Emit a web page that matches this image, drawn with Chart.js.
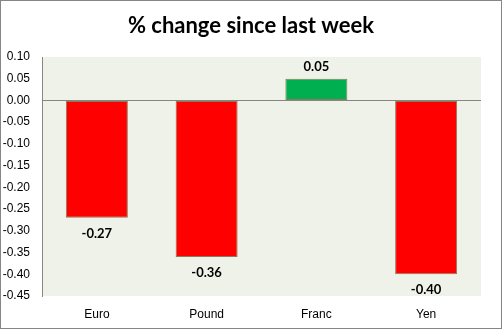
<!DOCTYPE html>
<html>
<head>
<meta charset="utf-8">
<script src="https://cdn.jsdelivr.net/npm/chart.js@4/dist/chart.umd.min.js"></script>
<style>
  html, body { margin: 0; padding: 0; background: #fff; }
  #wrap { width: 502px; height: 329px; position: relative; }
</style>
</head>
<body>
<div id="wrap"><canvas id="barChart"></canvas></div>
<script>
var categories = ['Euro', 'Pound', 'Franc', 'Yen'];
var changes = [-0.27, -0.36, 0.05, -0.40];
var barColors = ['#ff0000', '#ff0000', '#00b050', '#ff0000'];
var yMin = -0.45, yMax = 0.10, yStep = 0.05;

// plot background, frame, title and value labels
var decor = {
	id: 'decor',
	beforeDraw: function(chart) {
		var ctx = chart.ctx, a = chart.chartArea;
		ctx.save();
		ctx.fillStyle = '#eff2e8';
		ctx.fillRect(a.left, a.top, a.right - a.left, a.bottom - a.top);
		ctx.restore();
	},
	afterDraw: function(chart) {
		var ctx = chart.ctx;
		ctx.save();
		ctx.strokeStyle = '#868686';
		ctx.lineWidth = 1;
		ctx.strokeRect(0.5, 0.5, chart.width - 1, chart.height - 1);
		ctx.fillStyle = '#000';
		ctx.textAlign = 'center';
		ctx.textBaseline = 'middle';
		ctx.font = 'bold 22px Lato';
		ctx.fillText('% change since last week', 251, 26);
		ctx.font = 'bold 13px Lato';
		var meta = chart.getDatasetMeta(0);
		meta.data.forEach(function(bar, i) {
			var v = changes[i];
			var y = v < 0 ? bar.y + 16 : bar.y - 12;
			ctx.fillText(v.toFixed(2), bar.x, y);
		});
		ctx.restore();
	}
};

var barChartCanvas = document.getElementById('barChart').getContext('2d');
var barChart = new Chart(barChartCanvas, {
	type: 'bar',
	data: {
		labels: categories,
		datasets: [{
			data: changes,
			backgroundColor: barColors,
			borderColor: '#8c7b5c',
			borderWidth: 1,
			borderSkipped: false,
			categoryPercentage: 1,
			barPercentage: 0.565
		}]
	},
	options: {
		responsive: true,
		maintainAspectRatio: false,
		animation: false,
		layout: { padding: { top: 57, right: 21, left: 0, bottom: 0 } },
		plugins: {
			legend: { display: false },
			title: { display: false },
			tooltip: { enabled: false }
		},
		scales: {
			x: {
				grid: { display: false, drawTicks: false },
				border: { display: false },
				ticks: { color: '#000', font: { family: 'Liberation Sans', size: 12 }, padding: 11 },
				afterFit: function(s) { s.height = 33; }
			},
			y: {
				min: yMin,
				max: yMax,
				grid: {
					drawTicks: false,
					color: function(c) { return Math.abs(c.tick.value) < 1e-9 ? '#868686' : 'rgba(0,0,0,0)'; }
				},
				border: { display: true, color: '#868686' },
				ticks: {
					stepSize: yStep,
					color: '#000',
					font: { family: 'Liberation Sans', size: 12 },
					padding: 12,
					callback: function(v) { return Number(v).toFixed(2); }
				},
				afterFit: function(s) { s.width = 42; }
			}
		}
	},
	plugins: [decor]
});
</script>
</body>
</html>
